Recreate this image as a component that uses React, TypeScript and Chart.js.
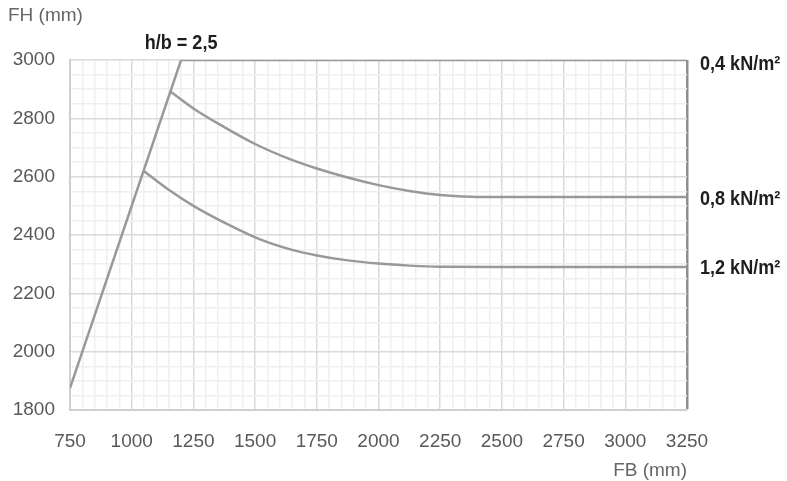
import React, { useEffect, useRef } from "react";
import { Chart, registerables } from "chart.js";

Chart.register(...registerables);

// ---- data ----
const xTicksMajor = [750, 1000, 1250, 1500, 1750, 2000, 2250, 2500, 2750, 3000, 3250];
const yTicksMajor = [1800, 2000, 2200, 2400, 2600, 2800, 3000];

const limitLabel = "h/b = 2,5";
const limitB = [750, 1200];
const limitH = [1875, 3000];

const label04 = "0,4 kN/m²";
const loadB04 = [1200, 3250];
const loadH04 = [3000, 3000];

const label08 = "0,8 kN/m²";
const loadB08 = [1157, 1250, 1375, 1500, 1641, 1750, 1875, 2000, 2125, 2250, 2375, 2500, 3250];
const loadH08 = [2892, 2834, 2770, 2712, 2660, 2628, 2597, 2571, 2551, 2537, 2531, 2530, 2530];

const label12 = "1,2 kN/m²";
const loadB12 = [1048, 1150, 1250, 1400, 1520, 1650, 1750, 1875, 2000, 2125, 2250, 2500, 3250];
const loadH12 = [2620, 2555, 2500, 2432, 2385, 2349, 2330, 2313, 2302, 2295, 2291, 2290, 2290];

const xTitle = "FB (mm)";
const yTitle = "FH (mm)";

const toPts = (xs: number[], ys: number[]) => xs.map((x, i) => ({ x, y: ys[i] }));

export default function App() {
  const ref = useRef<HTMLCanvasElement | null>(null);

  useEffect(() => {
    if (!ref.current) return;
    const lineStyle = {
      showLine: true,
      borderColor: "#999999",
      borderWidth: 2.5,
      pointRadius: 0,
      fill: false,
      cubicInterpolationMode: "monotone" as const,
    };

    const textPlugin = {
      id: "texts",
      afterDraw(chart: any) {
        const { ctx, chartArea, scales } = chart;
        const xs = scales.x;
        const ys = scales.y;
        ctx.save();
        ctx.font = '19px "Liberation Sans", Arial, sans-serif';
        ctx.fillStyle = "#666666";
        ctx.textBaseline = "middle";
        ctx.textAlign = "left";
        ctx.fillText(yTitle, chartArea.left - 62, chartArea.top - 44);
        ctx.textAlign = "right";
        ctx.fillText(xTitle, chartArea.right, chartArea.bottom + 61);

        ctx.font = 'bold 21px "Liberation Sans", Arial, sans-serif';
        ctx.fillStyle = "#1e1e1e";
        const drawCond = (t: string, x: number, y: number, align: string) => {
          ctx.save();
          ctx.translate(x, y);
          ctx.scale(0.86, 1);
          ctx.textAlign = align;
          ctx.textBaseline = "middle";
          ctx.fillText(t, 0, 0);
          ctx.restore();
        };
        drawCond(limitLabel, xs.getPixelForValue(limitB[1]), chartArea.top - 17, "center");
        const lx = chartArea.right + 13;
        drawCond(label04, lx, ys.getPixelForValue(loadH04[loadH04.length - 1]) + 4, "left");
        drawCond(label08, lx, ys.getPixelForValue(loadH08[loadH08.length - 1]) + 2, "left");
        drawCond(label12, lx, ys.getPixelForValue(loadH12[loadH12.length - 1]) + 1, "left");
        ctx.restore();
      },
    };

    const chart = new Chart(ref.current, {
      type: "scatter",
      data: {
        datasets: [
          { label: limitLabel, data: toPts(limitB, limitH), ...lineStyle },
          { label: label04, data: toPts(loadB04, loadH04), ...lineStyle },
          { label: label08, data: toPts(loadB08, loadH08), ...lineStyle },
          { label: label12, data: toPts(loadB12, loadH12), ...lineStyle },
        ],
      },
      options: {
        animation: false,
        responsive: true,
        maintainAspectRatio: false,
        layout: { padding: { top: 60, right: 100, bottom: 0, left: 0 } },
        plugins: { legend: { display: false }, tooltip: { enabled: false } },
        scales: {
          x: {
            type: "linear",
            min: xTicksMajor[0],
            max: xTicksMajor[xTicksMajor.length - 1],
            afterFit: (s: any) => {
              s.height = 71;
            },
            ticks: {
              stepSize: 50,
              autoSkip: false,
              maxRotation: 0,
              padding: 20,
              color: "#595959",
              font: { family: '"Liberation Sans", Arial, sans-serif', size: 19 },
              callback: (v: any) => (xTicksMajor.includes(Number(v)) ? String(v) : ""),
            },
            grid: {
              drawTicks: false,
              color: (c: any) => {
                const v = c.tick?.value;
                if (v === xTicksMajor[xTicksMajor.length - 1]) return "#8f8f8f";
                return xTicksMajor.includes(v) ? "#dadada" : "#efefef";
              },
              lineWidth: (c: any) => {
                const v = c.tick?.value;
                if (v === xTicksMajor[xTicksMajor.length - 1]) return 2.5;
                return 1.5;
              },
            },
            border: { color: "#cfcfcf", width: 2 },
          },
          y: {
            type: "linear",
            min: yTicksMajor[0],
            max: yTicksMajor[yTicksMajor.length - 1],
            afterFit: (s: any) => {
              s.width = 70;
            },
            ticks: {
              stepSize: 50,
              autoSkip: false,
              padding: 15,
              color: "#595959",
              font: { family: '"Liberation Sans", Arial, sans-serif', size: 19 },
              callback: (v: any) => (yTicksMajor.includes(Number(v)) ? String(v) : ""),
            },
            grid: {
              drawTicks: false,
              color: (c: any) => (yTicksMajor.includes(c.tick?.value) ? "#dadada" : "#efefef"),
              lineWidth: 1.5,
            },
            border: { color: "#cfcfcf", width: 2 },
          },
        },
      } as any,
      plugins: [textPlugin as any],
    });
    return () => chart.destroy();
  }, []);

  return (
    <div style={{ position: "absolute", left: 0, top: 0, width: 787, height: 481, background: "#fff" }}>
      <canvas ref={ref} />
    </div>
  );
}
